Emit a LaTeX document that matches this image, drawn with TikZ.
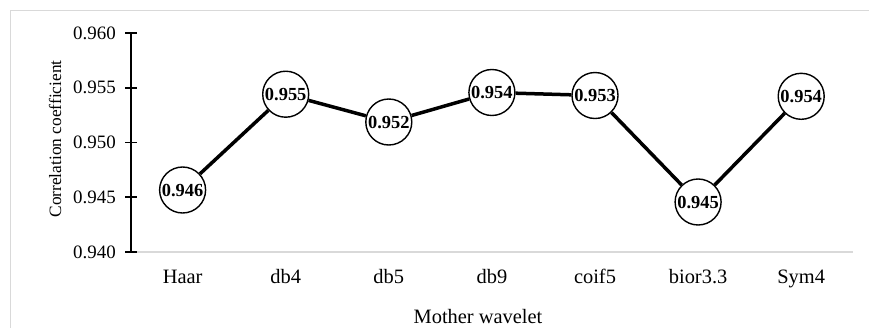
\documentclass[tikz,border=0pt]{standalone}
\usepackage{fontspec}
\setmainfont{Liberation Serif}
\begin{document}
\begin{tikzpicture}[x=1bp,y=-1bp,
  frame/.style={draw=black!15,line width=1bp},
  yaxis/.style={draw=black,line width=1.8bp},
  xaxis/.style={draw=black!15,line width=1.5bp},
  ticklab/.style={anchor=east,inner sep=0pt,font=\fontsize{19}{19}\selectfont},
  catlab/.style={anchor=base,inner sep=0pt,font=\fontsize{20.5}{20.5}\selectfont},
  pt/.style={circle,draw=black,fill=white,line width=1.4bp,minimum size=46bp,inner sep=0pt,
    font=\bfseries\fontsize{18.5}{18.5}\selectfont},
  series/.style={draw=black,line width=3.5bp}]
\useasboundingbox (0,0) rectangle (869,327);
% outer chart frame
\draw[frame] (10,10) rectangle (880,340);
% value axis: 0.940 at y=252, 0.005 per 54.75 units
\draw[xaxis] (131,252) -- (853,252);
\draw[yaxis] (131,252) -- (131,33);
\foreach \v/\t in {0/0.940,1/0.945,2/0.950,3/0.955,4/0.960}{
  \draw[yaxis] (125,{252-54.75*\v}) -- (137,{252-54.75*\v});
  \node[ticklab] (t\v) at (116,{252-54.75*\v}) {\t};
}
\node[rotate=90,inner sep=0pt,font=\fontsize{17.4}{17.4}\selectfont] (ytitle) at (55,139) {Correlation coefficient};
\node[catlab] (xtitle) at (478,323) {Mother wavelet};
% categories and data points
\foreach \i/\name/\val/\lab in {0/Haar/190/0.946,1/db4/94.2/0.955,2/db5/122/0.952,3/db9/92.5/0.954,
    4/coif5/95.5/0.953,5/bior3.3/202/0.945,6/Sym4/96.3/0.954}{
  \node[catlab] (c\i) at ({182.6+103.1*\i},283.5) {\name};
  \node[pt] (p\i) at ({182.6+103.1*\i},\val) {\lab};
}
\draw[series] (p0) -- (p1) -- (p2) -- (p3) -- (p4) -- (p5) -- (p6);
\end{tikzpicture}
\end{document}
